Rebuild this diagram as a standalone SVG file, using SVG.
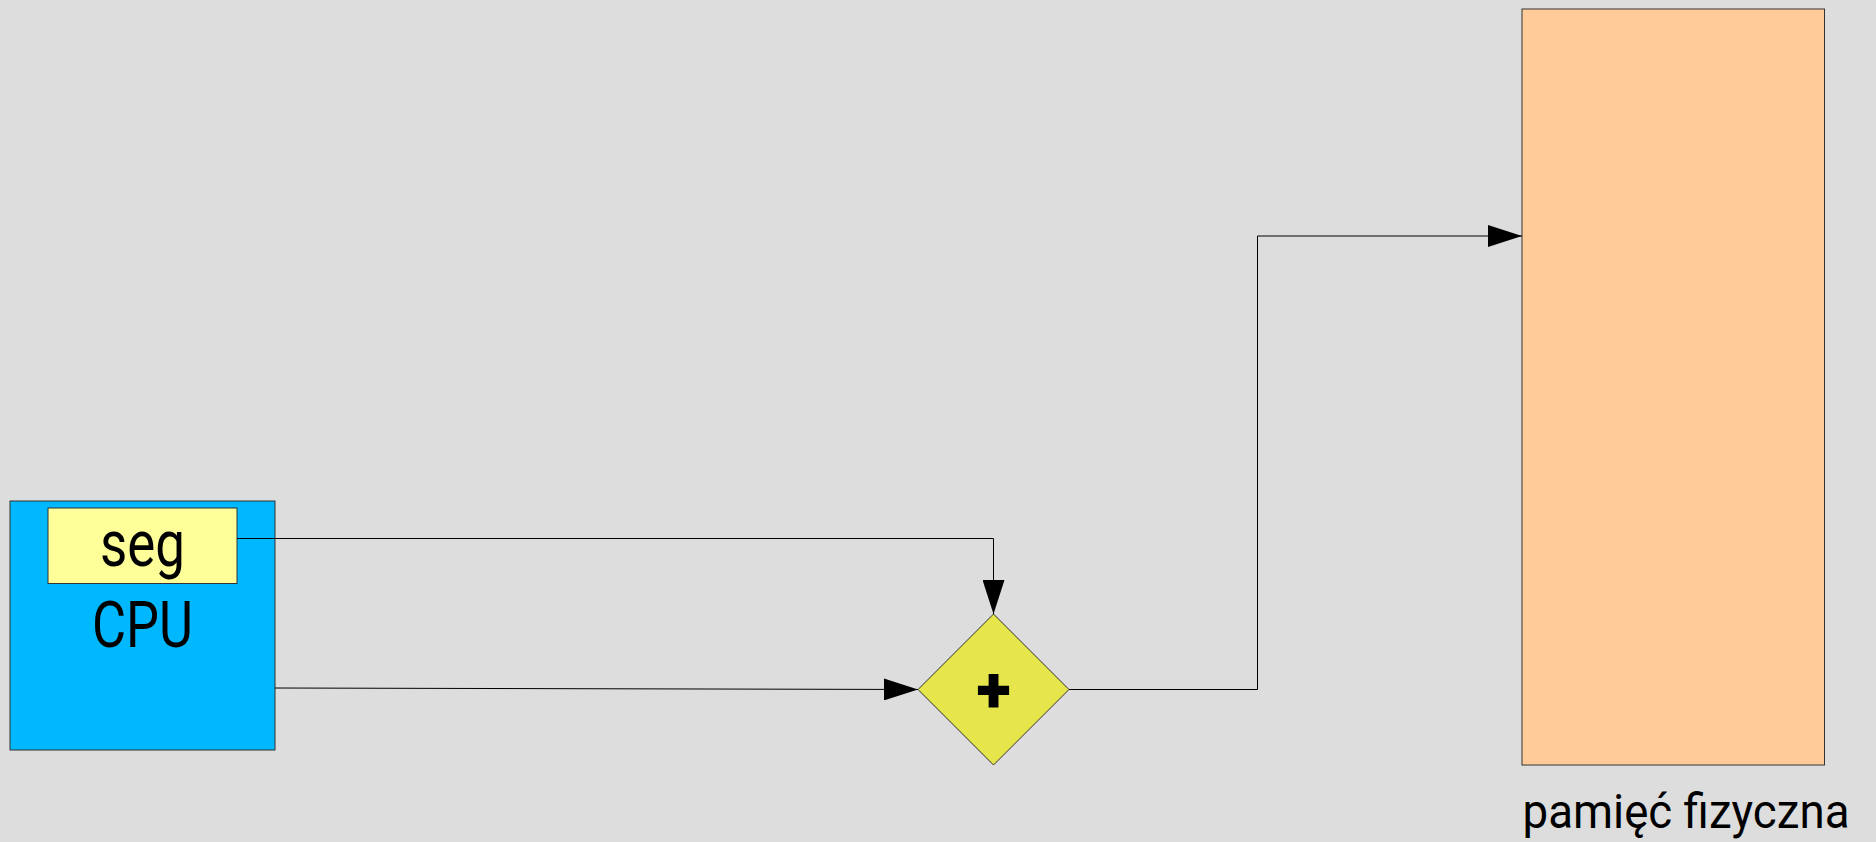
<svg xmlns="http://www.w3.org/2000/svg" width="1876" height="842" viewBox="0 0 1876 842">
  <style>
    .box { stroke: #333333; stroke-width: 1; }
    .wire { fill: none; stroke: #000000; stroke-width: 1; }
    .lbl { font-family: Roboto, "Liberation Sans", sans-serif; fill: #000000; }
  </style>
  <defs>
    <marker id="arrow" markerUnits="userSpaceOnUse" markerWidth="34" markerHeight="22" refX="34" refY="11" orient="auto">
      <path d="M0,0 L34,11 L0,22 Z" fill="#000000"/>
    </marker>
  </defs>

  <rect width="1876" height="842" fill="#dddddd"/>

  <g id="cpu">
    <rect class="box" x="10" y="501" width="265" height="249" fill="#00b8ff"/>
    <text class="lbl" x="142.5" y="646.5" font-size="64" text-anchor="middle" textLength="101" lengthAdjust="spacingAndGlyphs">CPU</text>
  </g>

  <g id="seg">
    <rect class="box" x="48" y="508" width="189" height="75.5" fill="#ffff99"/>
    <text class="lbl" x="142.5" y="566" font-size="64" text-anchor="middle" textLength="85" lengthAdjust="spacingAndGlyphs">seg</text>
  </g>

  <g id="adder">
    <path class="box" d="M993.5,614 L1069,689.5 L993.5,765 L918,689.5 Z" fill="#e6e64c"/>
    <text class="lbl" x="993.5" y="712" font-size="64" font-weight="900" text-anchor="middle">+</text>
  </g>

  <g id="memory">
    <rect class="box" x="1522" y="9" width="302.5" height="756" fill="#ffcc99"/>
    <text class="lbl" x="1522.5" y="828" font-size="49" textLength="327" lengthAdjust="spacingAndGlyphs">pamięć fizyczna</text>
  </g>

  <g id="connectors">
    <path class="wire" d="M237,538.5 L993.5,538.5 L993.5,614" marker-end="url(#arrow)"/>
    <path class="wire" d="M275,688 L918,689.5" marker-end="url(#arrow)"/>
    <path class="wire" d="M1069,689.5 L1257.5,689.5 L1257.5,236 L1522,236" marker-end="url(#arrow)"/>
  </g>
</svg>
